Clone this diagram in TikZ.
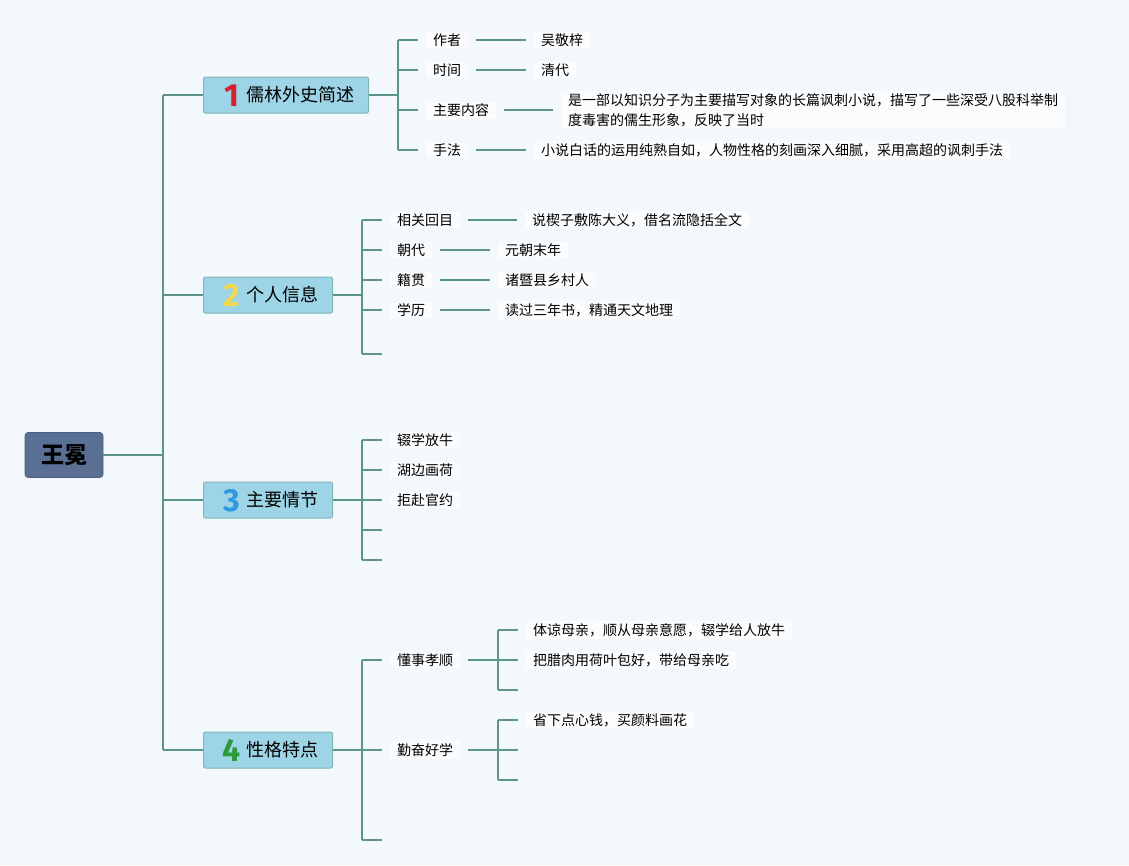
\documentclass[tikz,border=0pt]{standalone}
\usepackage{fontspec}
\setmainfont{Noto Sans CJK SC}
\newfontfamily\numfont{Fira Sans}
\definecolor{pagebg}{HTML}{F3F8FC}
\definecolor{linkgreen}{HTML}{5C9488}
\definecolor{rootblue}{HTML}{5A6F94}
\definecolor{topicblue}{HTML}{9DD4E6}
\definecolor{topicedge}{HTML}{7FB5B5}
\definecolor{numred}{HTML}{D9202E}
\definecolor{numyellow}{HTML}{F2D94E}
\definecolor{numblue}{HTML}{2E9BE0}
\definecolor{numgreen}{HTML}{2A9A3A}
\newcommand\topicnum[2]{\makebox[29pt][c]{\smash{\raisebox{-4.3pt}{\numfont\bfseries\fontsize{32}{32}\selectfont\color{#1}#2}}}}
\tikzset{
    link/.style={draw=linkgreen, line width=1.8pt},
    rootbox/.style={fill=rootblue, draw=rootblue!85!black, line width=0.6pt, rounded corners=3pt,
        minimum width=78pt, minimum height=45pt, font=\fontsize{23}{23}\selectfont\bfseries},
    topicbox/.style={fill=topicblue, draw=topicedge, line width=1pt, rounded corners=2pt, anchor=west,
        minimum height=36pt, inner xsep=14pt, inner ysep=2pt, font=\fontsize{18}{18}\selectfont},
    leaf/.style={fill=white!55!pagebg, anchor=west, inner xsep=7pt, outer xsep=8pt, inner ysep=2pt,
        font=\fontsize{14}{20}\selectfont}
}
\begin{document}
\begin{tikzpicture}[x=1pt,y=-1pt]
    \fill[pagebg] (0,0) rectangle (1129,865);
    \useasboundingbox (0,0) rectangle (1129,865);
    % root and topics
    \node[rootbox] (root) at (64,455) {王冕};
    \node[topicbox] (t1) at (203,95) {\topicnum{numred}{1}儒林外史简述};
    \node[topicbox] (t2) at (203,295) {\topicnum{numyellow}{2}个人信息};
    \node[topicbox] (t3) at (203,500) {\topicnum{numblue}{3}主要情节};
    \node[topicbox] (t4) at (203,750) {\topicnum{numgreen}{4}性格特点};
    \coordinate (trunk) at (163,455);
    \draw[link] (root.east) -- (trunk);
    \draw[link] (trunk |- t1.west) -- (trunk |- t4.west);
    \foreach \t in {t1,t2,t3,t4}
        \draw[link] (trunk |- \t.west) -- (\t.west);
    % 1
    \node[leaf] (a1) at (418,40) {作者};
    \node[leaf] (a2) at (418,70) {时间};
    \node[leaf] (a3) at (418,110) {主要内容};
    \node[leaf] (a4) at (418,150) {手法};
    \node[leaf] (av1) at (526,40) {吴敬梓};
    \node[leaf] (av2) at (526,70) {清代};
    \node[leaf, align=left] (av3) at (553,110) {是一部以知识分子为主要描写对象的长篇讽刺小说，描写了一些深受八股科举制\\度毒害的儒生形象，反映了当时};
    \node[leaf] (av4) at (526,150) {小说白话的运用纯熟自如，人物性格的刻画深入细腻，采用高超的讽刺手法};
    \coordinate (j1) at (398,95);
    \draw[link] (t1.east) -- (j1);
    \draw[link] (j1 |- a1.west) -- (j1 |- a4.west);
    \foreach \n in {1,2,3,4} {
        \draw[link] (j1 |- a\n.west) -- (a\n.west);
        \draw[link] (a\n.east) -- (av\n.west);
    }
    % 2
    \node[leaf] (b1) at (382,220) {相关回目};
    \node[leaf] (b2) at (382,250) {朝代};
    \node[leaf] (b3) at (382,280) {籍贯};
    \node[leaf] (b4) at (382,310) {学历};
    \coordinate (b5) at (382,354);
    \node[leaf] (bv1) at (517,220) {说楔子敷陈大义，借名流隐括全文};
    \node[leaf] (bv2) at (490,250) {元朝末年};
    \node[leaf] (bv3) at (490,280) {诸暨县乡村人};
    \node[leaf] (bv4) at (490,310) {读过三年书，精通天文地理};
    \coordinate (j2) at (362,295);
    \draw[link] (t2.east) -- (j2);
    \draw[link] (j2 |- b1.west) -- (j2 |- b5);
    \draw[link] (j2 |- b5) -- (b5);
    \foreach \n in {1,2,3,4} {
        \draw[link] (j2 |- b\n.west) -- (b\n.west);
        \draw[link] (b\n.east) -- (bv\n.west);
    }
    % 3
    \node[leaf] (c1) at (382,440) {辍学放牛};
    \node[leaf] (c2) at (382,470) {湖边画荷};
    \node[leaf] (c3) at (382,500) {拒赴官约};
    \coordinate (c4) at (382,530);
    \coordinate (c5) at (382,560);
    \coordinate (j3) at (362,500);
    \draw[link] (t3.east) -- (j3);
    \draw[link] (j3 |- c1.west) -- (j3 |- c5);
    \foreach \n in {1,2,3}
        \draw[link] (j3 |- c\n.west) -- (c\n.west);
    \draw[link] (j3 |- c4) -- (c4);
    \draw[link] (j3 |- c5) -- (c5);
    % 4
    \node[leaf] (d1) at (382,660) {懂事孝顺};
    \node[leaf] (d2) at (382,750) {勤奋好学};
    \coordinate (d3) at (382,840);
    \coordinate (j4) at (362,750);
    \draw[link] (t4.east) -- (j4);
    \draw[link] (j4 |- d1.west) -- (j4 |- d3);
    \draw[link] (j4 |- d1.west) -- (d1.west);
    \draw[link] (j4 |- d2.west) -- (d2.west);
    \draw[link] (j4 |- d3) -- (d3);
    \node[leaf] (e1) at (518,630) {体谅母亲，顺从母亲意愿，辍学给人放牛};
    \node[leaf] (e2) at (518,660) {把腊肉用荷叶包好，带给母亲吃};
    \coordinate (e3) at (518,690);
    \coordinate (k1) at (498,660);
    \draw[link] (d1.east) -- (k1);
    \draw[link] (k1 |- e1.west) -- (k1 |- e3);
    \draw[link] (k1 |- e1.west) -- (e1.west);
    \draw[link] (k1 |- e2.west) -- (e2.west);
    \draw[link] (k1 |- e3) -- (e3);
    \node[leaf] (f1) at (518,720) {省下点心钱，买颜料画花};
    \coordinate (f2) at (518,750);
    \coordinate (f3) at (518,780);
    \coordinate (k2) at (498,750);
    \draw[link] (d2.east) -- (k2);
    \draw[link] (k2 |- f1.west) -- (k2 |- f3);
    \draw[link] (k2 |- f1.west) -- (f1.west);
    \draw[link] (k2) -- (f2);
    \draw[link] (k2 |- f3) -- (f3);
\end{tikzpicture}
\end{document}
